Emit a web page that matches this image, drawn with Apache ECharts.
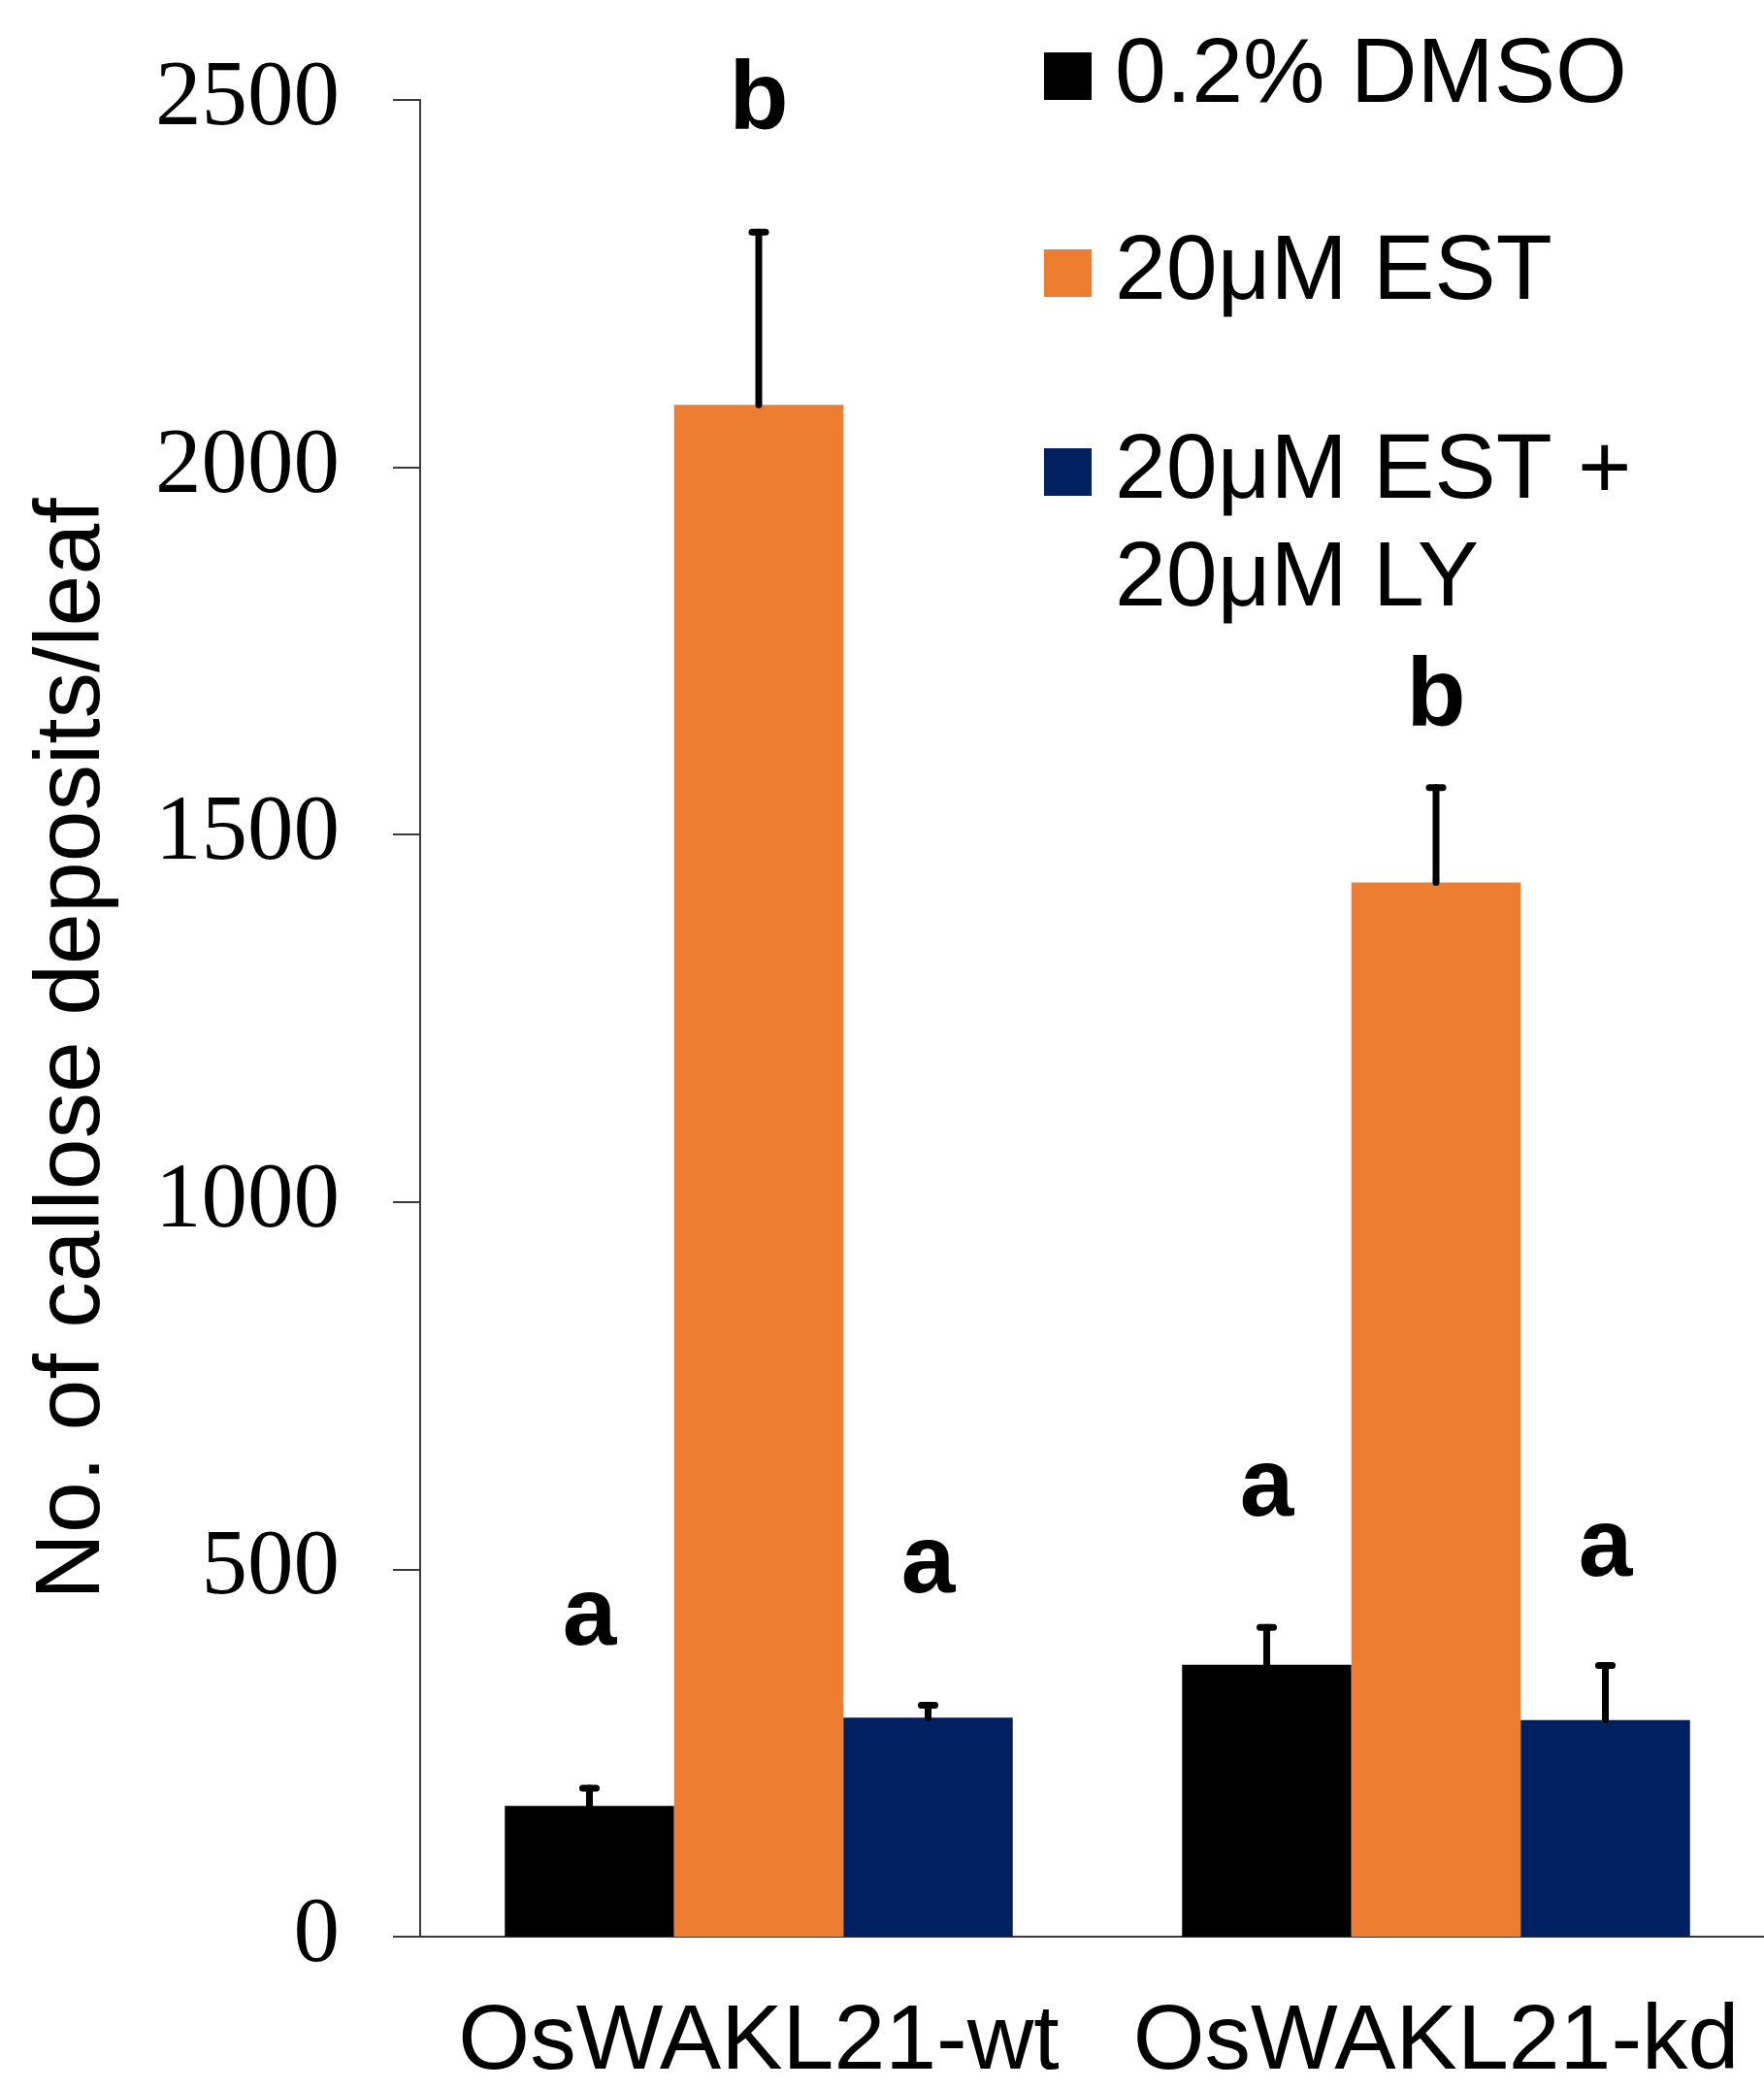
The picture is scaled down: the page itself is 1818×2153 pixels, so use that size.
<!DOCTYPE html>
<html>
<head>
<meta charset="utf-8">
<script src="https://cdn.jsdelivr.net/npm/echarts@6/dist/echarts.min.js"></script>
<style>
  html, body { margin: 0; padding: 0; background: #ffffff; }
  #chart { width: 1818px; height: 2153px; }
</style>
</head>
<body>
<div id="chart"></div>
<script>
// Lines and treatments
const categories = ['OsWAKL21-wt', 'OsWAKL21-kd'];
const seriesNames = ['0.2% DMSO', '20μM EST', '20μM EST +\n20μM LY'];

// Mean callose deposits per leaf
const dmso = [178, 370];
const est = [2085, 1435];
const estLy = [298, 295];

// Upper error (SE)
const dmsoErr = [24, 51];
const estErr = [235, 129];
const estLyErr = [17, 74];

// Significance groups and the axis height of each letter's baseline
const dmsoLetters = ['a', 'a'];
const estLetters = ['b', 'b'];
const estLyLetters = ['a', 'a'];
const dmsoLetterAt = [388, 564];
const estLetterAt = [2451, 1639];
const estLyLetterAt = [460, 482];

// Value axis ticks
const yTicks = [0, 500, 1000, 1500, 2000, 2500];

const colors = ['#000000', '#ED7D31', '#002060'];
const SANS = '"Liberation Sans", Arial, sans-serif';
const SERIF = '"Liberation Serif", "Times New Roman", serif';
const BAR_FRAC = 0.25;     // each bar takes a quarter of the category band
const LETTER_SIZE = 100;

const means = [dmso, est, estLy];
const errs = [dmsoErr, estErr, estLyErr];
const letters = [dmsoLetters, estLetters, estLyLetters];
const letterAt = [dmsoLetterAt, estLetterAt, estLyLetterAt];

function barSeries(i) {
  return {
    type: 'bar',
    name: seriesNames[i],
    data: means[i],
    barWidth: (BAR_FRAC * 100) + '%',
    barGap: '0%',
    itemStyle: { color: colors[i] },
    emphasis: { disabled: true },
    z: 2
  };
}

// Upward error bar plus the significance letter above each bar
function errorSeries(i) {
  return {
    type: 'custom',
    id: 'err' + i,
    data: means[i].map((m, k) => [k, m, errs[i][k], letterAt[i][k]]),
    z: 5,
    silent: true,
    renderItem(params, api) {
      const ci = api.value(0);
      const band = api.size([1, 0])[0];
      const x = api.coord([ci, 0])[0] + (i - 1) * band * BAR_FRAC;
      const yTop = api.coord([ci, api.value(1)])[1];
      const yCap = api.coord([ci, api.value(1) + api.value(2)])[1];
      const yBase = api.coord([ci, api.value(3)])[1];
      return {
        type: 'group',
        children: [
          { type: 'line', shape: { x1: x, y1: yTop, x2: x, y2: yCap },
            style: { stroke: '#000', lineWidth: 7, lineCap: 'round' } },
          { type: 'line', shape: { x1: x - 7, y1: yCap, x2: x + 7, y2: yCap },
            style: { stroke: '#000', lineWidth: 7, lineCap: 'round' } },
          { type: 'text', x: x, y: yBase - 0.3465 * LETTER_SIZE,
            style: { text: letters[i][params.dataIndex], fontFamily: SANS,
              fontSize: LETTER_SIZE, fontWeight: 'bold', fill: '#000',
              align: 'center', verticalAlign: 'middle' } }
        ]
      };
    }
  };
}

const legendText = {
  fontFamily: SANS, fontSize: 95, color: '#000',
  lineHeight: 111, padding: [0, 0, 0, 19]
};

const option = {
  animation: false,
  backgroundColor: '#ffffff',
  grid: {
    left: 433, top: 103, width: 1396, height: 1893,
    containLabel: false, outerBoundsMode: 'none'
  },
  legend: [
    {
      data: [seriesNames[0], seriesNames[1]],
      orient: 'vertical', left: 1076, top: 23, padding: 0,
      itemWidth: 49, itemHeight: 49, itemGap: 92, icon: 'rect',
      selectedMode: false, textStyle: legendText
    },
    {
      data: [seriesNames[2]],
      orient: 'vertical', left: 1076, top: 320, padding: 0,
      itemWidth: 49, itemHeight: 49, icon: 'rect',
      selectedMode: false, textStyle: legendText,
      formatter: name => '\n' + name
    }
  ],
  xAxis: {
    type: 'category',
    data: categories,
    axisTick: { show: false },
    axisLine: { lineStyle: { color: '#3a3a3a', width: 2 } },
    axisLabel: {
      interval: 0, hideOverlap: false,
      fontFamily: SANS, fontSize: 95, color: '#000', margin: 62
    }
  },
  yAxis: {
    type: 'value',
    min: yTicks[0],
    max: yTicks[yTicks.length - 1],
    interval: yTicks[1] - yTicks[0],
    splitLine: { show: false },
    axisLine: { show: true, lineStyle: { color: '#3a3a3a', width: 2 } },
    axisTick: { show: true, length: 28, lineStyle: { color: '#3a3a3a', width: 2 } },
    axisLabel: {
      formatter: v => String(v),
      fontFamily: SERIF, fontSize: 95, color: '#000', margin: 83
    }
  },
  graphic: [
    {
      type: 'text', x: 76, y: 1081, rotation: Math.PI / 2,
      style: { text: 'No. of callose deposits/leaf', fontFamily: SANS,
        fontSize: 95, fill: '#000', align: 'center', verticalAlign: 'middle' }
    }
  ],
  series: [barSeries(0), barSeries(1), barSeries(2),
           errorSeries(0), errorSeries(1), errorSeries(2)]
};

const chart = echarts.init(document.getElementById('chart'), null, { renderer: 'canvas' });
chart.setOption(option);
</script>
</body>
</html>
